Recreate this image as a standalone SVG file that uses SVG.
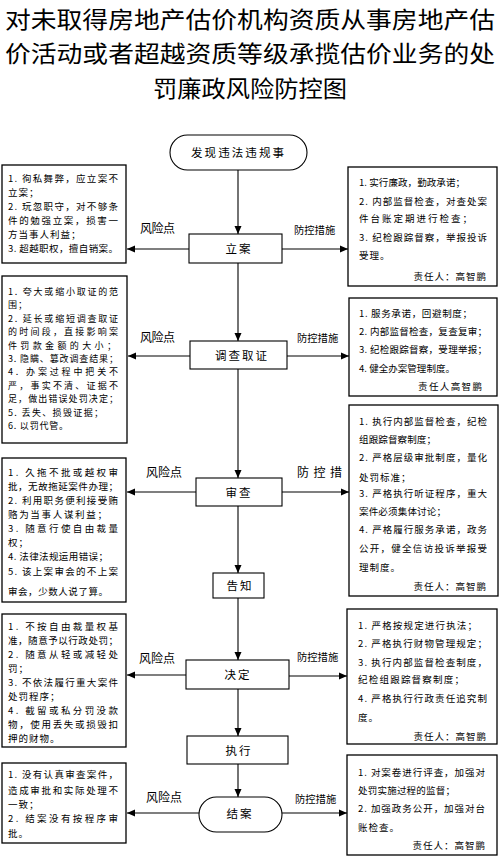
<svg xmlns="http://www.w3.org/2000/svg" width="500" height="857" viewBox="0 0 500 857">
<style>
.bg{fill:#fff}
.box{fill:#fff;stroke:#000;stroke-width:1.3}
.nb{fill:#fff;stroke:#000;stroke-width:1.1}
.ln{stroke:#000;stroke-width:1.1;fill:none}
text{font-family:"Noto Sans CJK SC","Noto Sans",sans-serif;fill:#000}
.title{font-size:23px;text-anchor:middle}
.t{font-size:9.5px}
.sm{font-size:9px}
.s{letter-spacing:1px}
.n{font-size:11.5px;text-anchor:middle;letter-spacing:2px}
.lb{font-size:12px}
.pk{font-size:10.3px}
.r{text-anchor:end;letter-spacing:1px}
</style>
<defs>
<marker id="ah" markerUnits="userSpaceOnUse" markerWidth="9" markerHeight="8" refX="8" refY="4" orient="auto">
<path d="M0,0.5 L8,4 L0,7.5 z" fill="#000"/>
</marker>
</defs>
<rect class="bg" x="0" y="0" width="500" height="857"/>

<g id="title">
<text class="title" x="250" y="28" textLength="490" lengthAdjust="spacingAndGlyphs">对未取得房地产估价机构资质从事房地产估</text>
<text class="title" x="250" y="62" textLength="490" lengthAdjust="spacingAndGlyphs">价活动或者超越资质等级承揽估价业务的处</text>
<text class="title" x="250" y="97" textLength="194" lengthAdjust="spacingAndGlyphs">罚廉政风险防控图</text>
</g>

<g id="connectors">
<line class="ln" x1="238" y1="170" x2="238" y2="234" marker-end="url(#ah)"/>
<line class="ln" x1="238" y1="263" x2="238" y2="341" marker-end="url(#ah)"/>
<line class="ln" x1="238" y1="369" x2="238" y2="478" marker-end="url(#ah)"/>
<line class="ln" x1="238" y1="506" x2="238" y2="573" marker-end="url(#ah)"/>
<line class="ln" x1="238" y1="598" x2="238" y2="660" marker-end="url(#ah)"/>
<line class="ln" x1="238" y1="689" x2="238" y2="736" marker-end="url(#ah)"/>
<line class="ln" x1="238" y1="764" x2="238" y2="797" marker-end="url(#ah)"/>

<line class="ln" x1="189" y1="249" x2="127" y2="249" marker-end="url(#ah)"/>
<line class="ln" x1="282" y1="249" x2="348" y2="249" marker-end="url(#ah)"/>
<line class="ln" x1="190" y1="356" x2="128" y2="356" marker-end="url(#ah)"/>
<line class="ln" x1="287" y1="356" x2="349" y2="356" marker-end="url(#ah)"/>
<line class="ln" x1="196" y1="492" x2="127" y2="492" marker-end="url(#ah)"/>
<line class="ln" x1="282" y1="492" x2="349" y2="492" marker-end="url(#ah)"/>
<line class="ln" x1="186" y1="675" x2="127" y2="675" marker-end="url(#ah)"/>
<line class="ln" x1="289" y1="676" x2="347" y2="676" marker-end="url(#ah)"/>
<line class="ln" x1="199" y1="813" x2="127" y2="813" marker-end="url(#ah)"/>
<line class="ln" x1="282" y1="813" x2="347" y2="813" marker-end="url(#ah)"/>

<text class="lb" x="140" y="233" textLength="35">风险点</text>
<text class="pk" x="294" y="234">防控措施</text>
<text class="lb" x="140" y="342" textLength="35">风险点</text>
<text class="pk" x="297" y="342">防控措施</text>
<text class="lb" x="146" y="477" textLength="36">风险点</text>
<text class="lb" x="297" y="477" textLength="45">防 控 措</text>
<text class="lb" x="139" y="663" textLength="36">风险点</text>
<text class="pk" x="297" y="661">防控措施</text>
<text class="lb" x="146" y="802" textLength="36">风险点</text>
<text class="pk" x="295" y="803">防控措施</text>
</g>

<g id="start">
<rect class="nb" x="170" y="135" width="137" height="35" rx="17.5"/>
<text class="n" x="238.5" y="157" textLength="95">发现违法违规事</text>
</g>
<g id="lian">
<rect class="nb" x="189" y="234" width="93" height="29"/>
<text class="n" x="239" y="253">立案</text>
</g>
<g id="diaocha">
<rect class="nb" x="190" y="341" width="97" height="28"/>
<text class="n" x="242" y="360">调查取证</text>
</g>
<g id="shencha">
<rect class="nb" x="196" y="478" width="86" height="28"/>
<text class="n" x="239" y="497">审查</text>
</g>
<g id="gaozhi">
<rect class="nb" x="213" y="573" width="51" height="25"/>
<text class="n" x="240" y="590">告知</text>
</g>
<g id="jueding">
<rect class="nb" x="186" y="660" width="103" height="29"/>
<text class="n" x="238" y="679">决定</text>
</g>
<g id="zhixing">
<rect class="nb" x="187" y="736" width="101" height="28"/>
<text class="n" x="239" y="755">执行</text>
</g>
<g id="jiean">
<rect class="nb" x="199" y="797" width="83" height="35" rx="17.5"/>
<text class="n" x="240" y="818">结案</text>
</g>

<g id="risk1">
<rect class="box" x="2" y="165" width="124" height="98"/>
<text class="t" x="8" y="181.5" textLength="110">1. 徇私舞弊，应立案不</text>
<text class="t s" x="8" y="195.5">立案；</text>
<text class="t" x="8" y="209.5" textLength="110">2. 玩忽职守，对不够条</text>
<text class="t" x="8" y="223.5" textLength="110">件的勉强立案，损害一</text>
<text class="t s" x="8" y="237.5">方当事人利益；</text>
<text class="t" x="8" y="251.5" textLength="110">3. 超越职权，擅自销案。</text>
</g>
<g id="ctrl1">
<rect class="box" x="348" y="167" width="149" height="119"/>
<text class="t" x="359" y="185.5" textLength="106">1. 实行廉政，勤政承诺；</text>
<text class="t" x="359" y="204.5" textLength="128">2. 内部监督检查，对查处案</text>
<text class="t" x="359" y="221.5" textLength="113">件台账定期进行检查；</text>
<text class="t" x="359" y="240.5" textLength="128">3. 纪检跟踪督察，举报投诉</text>
<text class="t s" x="359" y="258.5">受理。</text>
<text class="t r" x="487" y="279.5">责任人：高智鹏</text>
</g>

<g id="risk2">
<rect class="box" x="2" y="276" width="125" height="167"/>
<text class="sm" x="8" y="295" textLength="110">1. 夸大或缩小取证的范</text>
<text class="sm s" x="8" y="308.4">围；</text>
<text class="sm" x="8" y="321.8" textLength="110">2. 延长或缩短调查取证</text>
<text class="sm" x="8" y="335.2" textLength="110">的时间段，直接影响案</text>
<text class="sm" x="8" y="348.6" textLength="108">件罚款金额的大小；</text>
<text class="sm" x="8" y="362" textLength="110">3. 隐瞒、篡改调查结果；</text>
<text class="sm" x="8" y="375.4" textLength="110">4. 办案过程中把关不</text>
<text class="sm" x="8" y="388.8" textLength="110">严，事实不清、证据不</text>
<text class="sm" x="8" y="402.2" textLength="110">足，做出错误处罚决定；</text>
<text class="sm" x="8" y="415.6" textLength="95">5. 丢失、损毁证据；</text>
<text class="sm" x="8" y="429" textLength="60">6. 以罚代管。</text>
</g>
<g id="ctrl2">
<rect class="box" x="349" y="298" width="148" height="98"/>
<text class="t" x="359" y="316.5" textLength="113">1. 服务承诺，回避制度；</text>
<text class="t" x="359" y="334.5" textLength="128">2. 内部监督检查，复查复审；</text>
<text class="t" x="359" y="352.5" textLength="128">3. 纪检跟踪督察，受理举报；</text>
<text class="t" x="359" y="371.5" textLength="96">4. 健全办案管理制度。</text>
<text class="t" x="418" y="389.5" textLength="64">责任人高智鹏</text>
</g>

<g id="risk3">
<rect class="box" x="2" y="458" width="124" height="144"/>
<text class="t" x="8" y="475.5" textLength="110">1. 久拖不批或越权审</text>
<text class="t" x="8" y="489.5" textLength="110">批，无故拖延案件办理；</text>
<text class="t" x="8" y="503.5" textLength="110">2. 利用职务便利接受贿</text>
<text class="t" x="8" y="517.5" textLength="99">赂为当事人谋利益；</text>
<text class="t" x="8" y="531.5" textLength="110">3. 随意行使自由裁量</text>
<text class="t s" x="8" y="545.5">权；</text>
<text class="t" x="8" y="559.5" textLength="100">4. 法律法规运用错误；</text>
<text class="t" x="8" y="574.5" textLength="110">5. 该上案审会的不上案</text>
<text class="t" x="8" y="594.5" textLength="100">审会，少数人说了算。</text>
</g>
<g id="ctrl3">
<rect class="box" x="349" y="405" width="149" height="191"/>
<text class="t" x="359" y="424.5" textLength="128">1. 执行内部监督检查，纪检</text>
<text class="t" x="359" y="442.5" textLength="77">组跟踪督察制度；</text>
<text class="t" x="359" y="460.5" textLength="128">2. 严格层级审批制度，量化</text>
<text class="t s" x="359" y="480.5">处罚标准；</text>
<text class="t" x="359" y="496.5" textLength="128">3. 严格执行听证程序，重大</text>
<text class="t" x="359" y="514.5" textLength="87">案件必须集体讨论；</text>
<text class="t" x="359" y="532.5" textLength="128">4. 严格履行服务承诺，政务</text>
<text class="t" x="359" y="551.5" textLength="128">公开，健全信访投诉举报受</text>
<text class="t s" x="359" y="570.5">理制度。</text>
<text class="t r" x="487" y="589.5">责任人：高智鹏</text>
</g>

<g id="risk4">
<rect class="box" x="2" y="614" width="124" height="133"/>
<text class="t" x="8" y="629.5" textLength="110">1. 不按自由裁量权基</text>
<text class="t" x="8" y="643.5" textLength="110">准，随意予以行政处罚；</text>
<text class="t" x="8" y="657.5" textLength="110">2. 随意从轻或减轻处</text>
<text class="t s" x="8" y="671.5">罚；</text>
<text class="t" x="8" y="685.5" textLength="110">3. 不依法履行重大案件</text>
<text class="t s" x="8" y="699.5">处罚程序；</text>
<text class="t" x="8" y="713.5" textLength="110">4. 截留或私分罚没款</text>
<text class="t" x="8" y="727.5" textLength="110">物，使用丢失或损毁扣</text>
<text class="t s" x="8" y="741.5">押的财物。</text>
</g>
<g id="ctrl4">
<rect class="box" x="347" y="609" width="150" height="135"/>
<text class="t" x="358" y="628.5" textLength="119">1. 严格按规定进行执法；</text>
<text class="t" x="358" y="646.5" textLength="129">2. 严格执行财物管理规定；</text>
<text class="t" x="358" y="665.5" textLength="129">3. 执行内部监督检查制度，</text>
<text class="t" x="358" y="682.5" textLength="106">纪检组跟踪督察制度；</text>
<text class="t" x="358" y="701.5" textLength="129">4. 严格执行行政责任追究制</text>
<text class="t s" x="358" y="720.5">度。</text>
<text class="t r" x="487" y="739.5">责任人：高智鹏</text>
</g>

<g id="risk5">
<rect class="box" x="2" y="763" width="124" height="80"/>
<text class="t" x="8" y="777.5" textLength="110">1. 没有认真审查案件，</text>
<text class="t" x="8" y="793.5" textLength="110">造成审批和实际处理不</text>
<text class="t s" x="8" y="807.5">一致；</text>
<text class="t" x="8" y="821.5" textLength="110">2. 结案没有按程序审</text>
<text class="t s" x="8" y="836.5">批。</text>
</g>
<g id="ctrl5">
<rect class="box" x="347" y="755" width="150" height="100"/>
<text class="t" x="358" y="775.5" textLength="127">1. 对案卷进行评查，加强对</text>
<text class="t" x="358" y="793.5" textLength="97">处罚实施过程的监督；</text>
<text class="t" x="358" y="811.5" textLength="127">2. 加强政务公开，加强对台</text>
<text class="t s" x="358" y="830.5">账检查。</text>
<text class="t r" x="486" y="848.5">责任人：高智鹏</text>
</g>
</svg>
